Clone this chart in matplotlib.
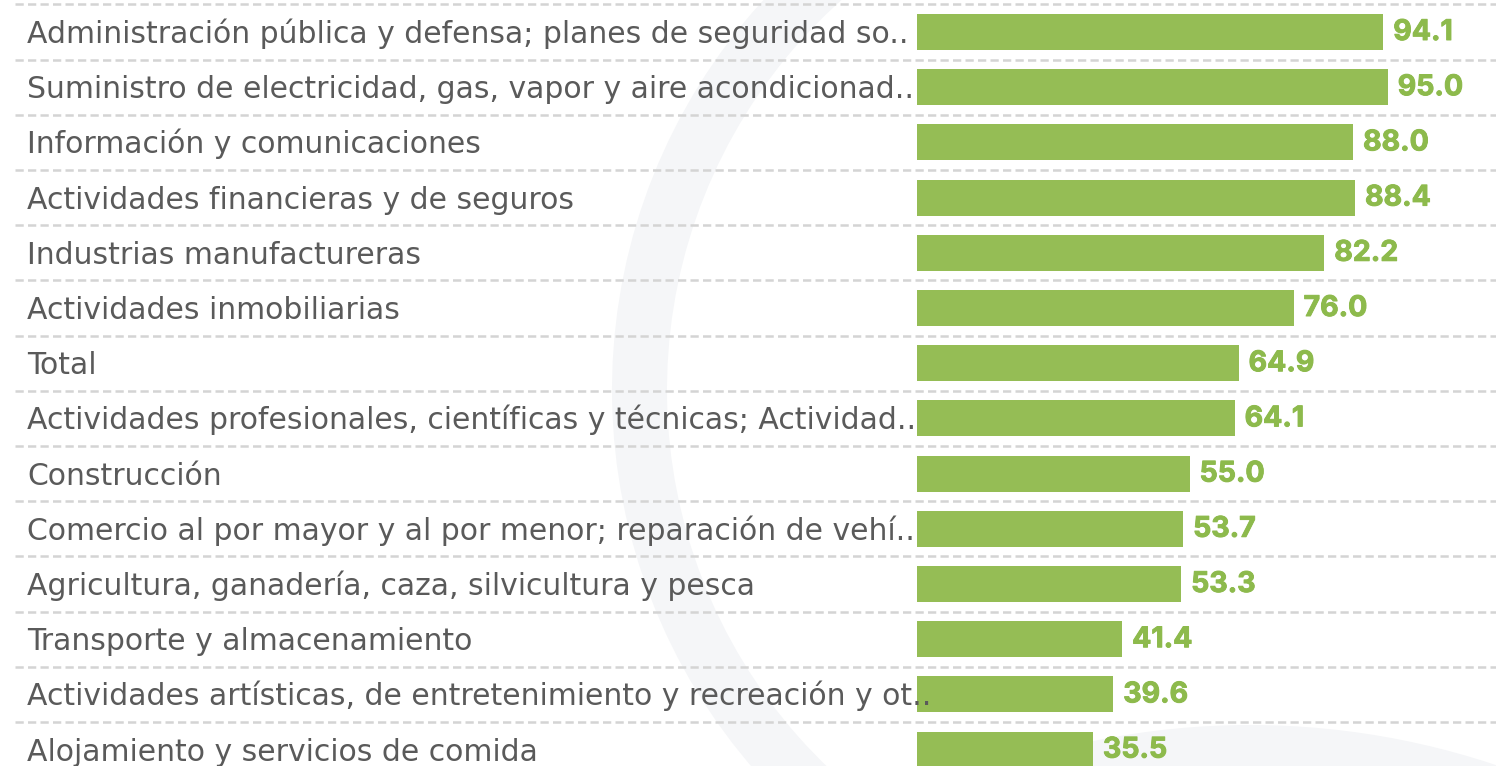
import matplotlib
matplotlib.use("Agg")
import matplotlib.pyplot as plt
import matplotlib.patheffects as pe
from matplotlib.patches import Wedge, Circle
from matplotlib.transforms import IdentityTransform, blended_transform_factory

categories = [
    "Administración pública y defensa; planes de seguridad so..",
    "Suministro de electricidad, gas, vapor y aire acondicionad..",
    "Información y comunicaciones",
    "Actividades financieras y de seguros",
    "Industrias manufactureras",
    "Actividades inmobiliarias",
    "Total",
    "Actividades profesionales, científicas y técnicas; Actividad..",
    "Construcción",
    "Comercio al por mayor y al por menor; reparación de vehí..",
    "Agricultura, ganadería, caza, silvicultura y pesca",
    "Transporte y almacenamiento",
    "Actividades artísticas, de entretenimiento y recreación y ot..",
    "Alojamiento y servicios de comida",
]
values = [94.1, 95.0, 88.0, 88.4, 82.2, 76.0, 64.9, 64.1, 55.0, 53.7, 53.3, 41.4, 39.6, 35.5]

W, H = 1496, 766
fig = plt.figure(figsize=(W / 100, H / 100), dpi=100)
fig.patch.set_facecolor("white")
ax = fig.add_axes([0, 0, 1, 1])
ax.set_facecolor("none")
ax.set_zorder(2)

# pixel layout
zero_px = 917.0
ppu = 4.955
row0 = 32.0
pitch = 55.2
ax.set_xlim(-zero_px / ppu, (W - zero_px) / ppu)
ax.set_ylim((H - row0) / pitch, -row0 / pitch)
ax.axis("off")

# faint watermark shapes (display pixel coords), drawn beneath the axes
ident = IdentityTransform()
wm = "#f5f6f8"
fig.patches.append(Wedge((1190, H - 390), 578, 100, 262, width=55,
                         facecolor=wm, edgecolor="none", transform=ident, zorder=0))
fig.patches.append(Circle((1250, H - 1500), 775, facecolor=wm, edgecolor="none",
                          transform=ident, zorder=0))

n = len(categories)
ys = list(range(n))

# dashed separators
for k in range(-1, n):
    ax.plot([(15 - zero_px) / ppu, (W - zero_px) / ppu], [k + 0.5, k + 0.5],
            color="#d4d4d4", lw=1.8, linestyle=(0, (3.3, 1.7)), zorder=1,
            solid_capstyle="butt")

ax.barh(ys, values, height=36 / pitch, color="#95bd55", zorder=2)

# label font size fitted to the reference label width
lab_tr = blended_transform_factory(fig.transFigure, ax.transData)
probe = fig.text(0, 0, categories[0], fontsize=18, family="DejaVu Sans")
fig.canvas.draw()
wpx = probe.get_window_extent().width
probe.remove()
lab_size = 18 * 883.0 / wpx

for y, c in zip(ys, categories):
    ax.text(27 / W, y + 11 / pitch, c, transform=lab_tr, fontsize=lab_size,
            family="DejaVu Sans", color="#5a5a5a", va="baseline", ha="left", zorder=3)

val_color = "#8dba4c"
for y, v in zip(ys, values):
    ax.text(v + 10 / ppu, y + 8 / pitch, f"{v:.1f}", fontsize=20.5,
            family="Inter", fontweight="bold", color=val_color,
            va="baseline", ha="left", zorder=3,
            path_effects=[pe.withStroke(linewidth=0.7, foreground=val_color)])

fig.savefig("out.png", dpi=100)
